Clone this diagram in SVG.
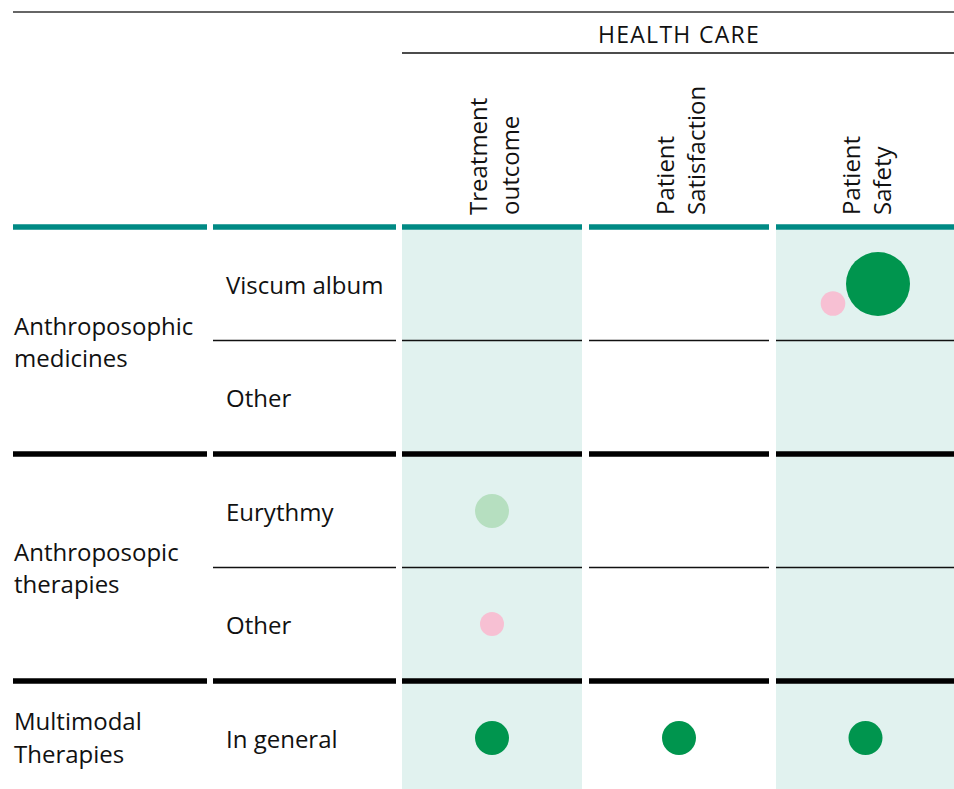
<svg xmlns="http://www.w3.org/2000/svg" width="954" height="789" viewBox="0 0 954 789">
<style>
text{font-family:"Open Sans","Noto Sans","DejaVu Sans",sans-serif;font-size:24px;fill:#111}
.hc{font-size:23px;letter-spacing:1.3px}
.teal{stroke:#008a84;stroke-width:5.5}
.thick{stroke:#000;stroke-width:5.5}
.thin{stroke:#111;stroke-width:1.5}
.shade{fill:#e1f2ef}
.g{fill:#00954e}
.lg{fill:#b6dfc0}
.pk{fill:#f7c0d3}
</style>
<rect width="954" height="789" fill="#fff"/>
<g id="shading">
<rect class="shade" x="402" y="230" width="180" height="559"/>
<rect class="shade" x="776" y="230" width="178" height="559"/>
</g>
<g id="header">
<line x1="13" y1="12" x2="954" y2="12" stroke="#333" stroke-width="1.5"/>
<text class="hc" x="679" y="43" text-anchor="middle">HEALTH CARE</text>
<line x1="402" y1="53" x2="954" y2="53" stroke="#111" stroke-width="1.5"/>
</g>
<g id="col-treatment">
<text transform="translate(487,215) rotate(-90)">Treatment</text>
<text transform="translate(519,215) rotate(-90)">outcome</text>
</g>
<g id="col-satisfaction">
<text transform="translate(674,215) rotate(-90)">Patient</text>
<text transform="translate(705,215) rotate(-90)">Satisfaction</text>
</g>
<g id="col-safety">
<text transform="translate(860,215) rotate(-90)">Patient</text>
<text transform="translate(891,215) rotate(-90)">Safety</text>
</g>
<g id="rules">
<line class="teal" x1="13" y1="227" x2="207" y2="227"/>
<line class="teal" x1="213" y1="227" x2="396" y2="227"/>
<line class="teal" x1="402" y1="227" x2="582" y2="227"/>
<line class="teal" x1="589" y1="227" x2="769" y2="227"/>
<line class="teal" x1="776" y1="227" x2="954" y2="227"/>
<line class="thin" x1="213" y1="340.5" x2="396" y2="340.5"/>
<line class="thin" x1="402" y1="340.5" x2="582" y2="340.5"/>
<line class="thin" x1="589" y1="340.5" x2="769" y2="340.5"/>
<line class="thin" x1="776" y1="340.5" x2="954" y2="340.5"/>
<line class="thick" x1="13" y1="454" x2="207" y2="454"/>
<line class="thick" x1="213" y1="454" x2="396" y2="454"/>
<line class="thick" x1="402" y1="454" x2="582" y2="454"/>
<line class="thick" x1="589" y1="454" x2="769" y2="454"/>
<line class="thick" x1="776" y1="454" x2="954" y2="454"/>
<line class="thin" x1="213" y1="567.5" x2="396" y2="567.5"/>
<line class="thin" x1="402" y1="567.5" x2="582" y2="567.5"/>
<line class="thin" x1="589" y1="567.5" x2="769" y2="567.5"/>
<line class="thin" x1="776" y1="567.5" x2="954" y2="567.5"/>
<line class="thick" x1="13" y1="681" x2="207" y2="681"/>
<line class="thick" x1="213" y1="681" x2="396" y2="681"/>
<line class="thick" x1="402" y1="681" x2="582" y2="681"/>
<line class="thick" x1="589" y1="681" x2="769" y2="681"/>
<line class="thick" x1="776" y1="681" x2="954" y2="681"/>
</g>
<g id="group-medicines">
<text x="14" y="335">Anthroposophic</text>
<text x="14" y="367">medicines</text>
</g>
<g id="row-viscum"><text x="226" y="294">Viscum album</text></g>
<g id="row-med-other"><text x="226" y="407">Other</text></g>
<g id="group-therapies">
<text x="14" y="561">Anthroposopic</text>
<text x="14" y="593">therapies</text>
</g>
<g id="row-eurythmy"><text x="226" y="521">Eurythmy</text></g>
<g id="row-ther-other"><text x="226" y="634">Other</text></g>
<g id="group-multimodal">
<text x="14" y="730">Multimodal</text>
<text x="14" y="763">Therapies</text>
</g>
<g id="row-general"><text x="226" y="748">In general</text></g>
<g id="dots">
<circle class="pk" cx="833" cy="303.5" r="12.3"/>
<circle class="g" cx="878" cy="284" r="32"/>
<circle class="lg" cx="492" cy="511" r="17"/>
<circle class="pk" cx="492" cy="624" r="12"/>
<circle class="g" cx="492" cy="738" r="17"/>
<circle class="g" cx="679" cy="738" r="17"/>
<circle class="g" cx="865.5" cy="738" r="17"/>
</g>
</svg>
